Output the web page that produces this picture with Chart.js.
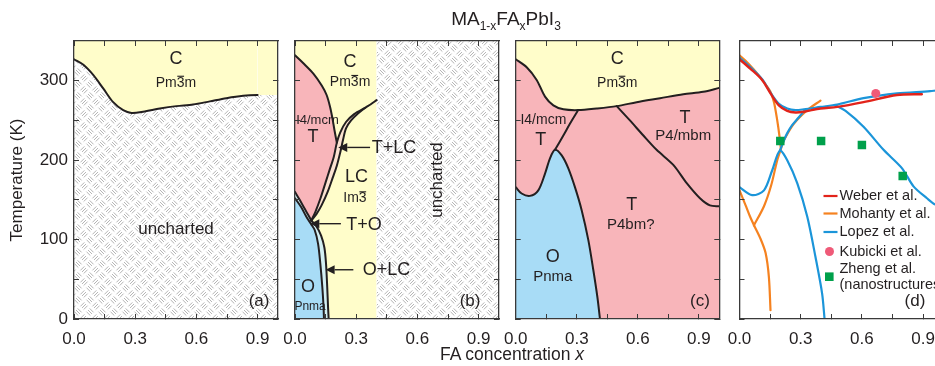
<!DOCTYPE html>
<html>
<head>
<meta charset="utf-8">
<script src="https://cdn.jsdelivr.net/npm/chart.js@4/dist/chart.umd.min.js"></script>
<style>
  html, body { margin: 0; padding: 0; background: #fff; width: 935px; height: 366px; overflow: hidden; position: relative; }
  canvas { position: absolute; top: 0; }
  .txt { position: absolute; font-family: 'Liberation Sans', Arial, Helvetica, sans-serif; color: #231f20;
         white-space: nowrap; transform: translate(-50%, -50%); line-height: 1; }
  .txt sub { font-size: 12px; vertical-align: -5px; line-height: 0; }
</style>
</head>
<body>
<canvas id="pa" width="290" height="366" style="left:0px"></canvas>
<canvas id="pb" width="230" height="366" style="left:280px"></canvas>
<canvas id="pc" width="230" height="366" style="left:500px"></canvas>
<canvas id="pd" width="240" height="366" style="left:720px"></canvas>
<div class="txt" style="left:506px; top:18px; font-size:19px">MA<sub>1-x</sub>FA<sub>x</sub>PbI<sub>3</sub></div>
<div class="txt" style="left:512px; top:355px; font-size:17.5px">FA concentration <i>x</i></div>
<script>
// ---------- axes ----------
const X_TICKS = [0, 0.15, 0.3, 0.45, 0.6, 0.75, 0.9];
const X_TICK_LABELS = ['0.0', '', '0.3', '', '0.6', '', '0.9'];
const Y_TICKS = [0, 50, 100, 150, 200, 250, 300];
const Y_TICK_LABELS = ['0', '', '100', '', '200', '', '300'];

// ---------- (a) cubic phase boundary ----------
const A_X = [0, 0.046, 0.095, 0.144, 0.192, 0.241, 0.282, 0.339, 0.421, 0.502, 0.584, 0.666, 0.747, 0.829, 0.9, 1.0];
const A_T = [327, 320, 307, 290, 273, 263, 259.5, 261, 265, 268, 270, 274, 278, 281, 282, 282];

// ---------- (b) MA-rich side ----------
const B_TC_X = [0, 0.041, 0.09, 0.131, 0.155, 0.172, 0.184, 0.194, 0.205];
const B_TC_T = [332, 322, 309, 294, 282, 267, 252, 237, 222];
const B_L_X = [0.345, 0.29, 0.25, 0.222, 0.205, 0.19, 0.17, 0.15, 0.125, 0.1, 0.08];
const B_L_T = [266, 258, 248, 235, 222, 204, 188, 172, 152, 135, 124];
const B_R_X = [0.4, 0.37, 0.345, 0.31, 0.275, 0.25, 0.235, 0.222, 0.205, 0.185, 0.16, 0.13, 0.105, 0.08];
const B_R_T = [275.5, 270, 266, 259, 250, 240, 225, 210, 193, 178, 160, 143, 132, 124];
const B_TO_X = [0, 0.023, 0.047, 0.065, 0.08];
const B_TO_T = [160, 150, 139, 131, 124];
const B_LC_X = [0.08, 0.104, 0.128, 0.144, 0.152, 0.158, 0.162, 0.165];
const B_LC_T = [124, 117, 105, 90, 70, 40, 15, 0];
const B_O_X = [0, 0.03, 0.055, 0.08, 0.0965, 0.113, 0.124, 0.134, 0.14, 0.142];
const B_O_T = [152, 141, 129, 119, 112, 95, 70, 40, 15, 0];

// ---------- (c) full composition range ----------
const C_C_X = [0, 0.054, 0.103, 0.144, 0.185, 0.234, 0.307, 0.398, 0.496, 0.594, 0.709, 0.823, 0.921, 1.0];
const C_C_T = [327, 317, 301, 280, 269, 264, 263, 265, 268, 273, 278, 283, 286, 291];
const C_TT_X = [0.307, 0.267, 0.234, 0.193];
const C_TT_T = [263, 246, 231, 213];
const C_O_X = [0, 0.029, 0.07, 0.111, 0.144, 0.168, 0.193, 0.226, 0.258, 0.291, 0.324, 0.357, 0.381, 0.401, 0.414];
const C_O_T = [166, 158, 155, 162, 183, 202, 213, 206, 190, 166, 137, 99, 62, 28, 0];
const C_MBM_X = [0.496, 0.561, 0.627, 0.692, 0.774, 0.84, 0.905, 0.954, 1.0];
const C_MBM_T = [268, 250, 231, 213, 194, 171, 152, 143, 142];

// ---------- (d) literature ----------
const WEBER_X = [0, 0.054, 0.111, 0.152, 0.193, 0.234, 0.275, 0.316, 0.397, 0.479, 0.608, 0.772, 0.894];
const WEBER_T = [327, 315, 301, 284, 269, 262, 260, 261, 265, 267, 273, 282, 283];
const MOH_C_X = [0, 0.03, 0.07, 0.111, 0.15, 0.169, 0.185, 0.196, 0.203];
const MOH_C_T = [332, 325, 314, 301, 287, 273, 250, 230, 214];
const MOH_R_X = [0.071, 0.12, 0.155, 0.185, 0.203, 0.218, 0.267, 0.332, 0.397];
const MOH_R_T = [118, 142, 168, 200, 214, 225, 246, 263, 275];
const MOH_TO_X = [0, 0.03, 0.05, 0.071];
const MOH_TO_T = [162, 143, 130, 118];
const MOH_LC_X = [0.071, 0.103, 0.128, 0.144, 0.152];
const MOH_LC_T = [118, 101, 83, 53, 11];
const LOP_TOP_X = [0, 0.054, 0.111, 0.152, 0.193, 0.234, 0.275, 0.316, 0.397, 0.479, 0.608, 0.772, 0.935, 1.0];
const LOP_TOP_T = [329, 317, 302, 285, 271, 265, 263, 264, 267, 270, 278, 284, 287, 289];
const LOP_MBM_X = [0.47, 0.52, 0.608, 0.706, 0.796, 0.853, 0.919, 0.96, 1.0];
const LOP_MBM_T = [269, 262, 242, 213, 190, 167, 152, 144, 142];
const LOP_TT_X = [0.198, 0.218, 0.234, 0.258, 0.291, 0.32];
const LOP_TT_T = [212, 225, 234, 244, 254, 263];
const LOP_O_X = [0, 0.062, 0.12, 0.16, 0.198, 0.234, 0.283, 0.332, 0.3725, 0.405, 0.417];
const LOP_O_T = [166, 156, 162, 187, 212, 200, 171, 129, 78, 32, 0];
const KUBICKI_X = [0.668];
const KUBICKI_T = [284];
const ZHENG_X = [0.2, 0.4, 0.6, 0.8];
const ZHENG_T = [224, 224, 219, 180];

// ---------- styling ----------
const FONT = "'Liberation Sans', Arial, Helvetica, sans-serif";
const INK = '#231f20';
const FRAME = '#3a3a3a';
const YELLOW = '#fffdca', PINK = '#f8b5ba', BLUE = '#a8dcf6', PEACH = '#fbe2d1', CYAN = '#d3eff3';
const RED = '#e2231a', ORANGE = '#f58220', LBLUE = '#1b95d9', GREEN = '#00a04b', ROSE = '#ef5a78';

const pts = (xs, ts) => xs.map((x, i) => ({ x, y: ts[i] }));

// grey "checker plate" texture for the uncharted area
function hatch(ctx) {
  const p = 12, s = p / Math.SQRT2, r = Math.SQRT1_2;
  const c = document.createElement('canvas');
  c.width = c.height = p;
  const g = c.getContext('2d');
  g.fillStyle = '#fff';
  g.fillRect(0, 0, p, p);
  g.strokeStyle = '#b4b4b4';
  g.lineWidth = 1;
  const xy = (u, v) => [(u + v) * r, (u - v) * r];
  for (let i = -3; i <= 4; i++) {
    for (let j = -4; j <= 3; j++) {
      const cu = (i + 0.5) * s, cv = (j + 0.5) * s;
      const alongU = (((i + j) % 2) + 2) % 2 === 0;
      for (const o of [-0.27, 0, 0.27]) {
        const off = o * s, half = 0.33 * s;
        const a = alongU ? xy(cu - half, cv + off) : xy(cu + off, cv - half);
        const b = alongU ? xy(cu + half, cv + off) : xy(cu + off, cv + half);
        g.beginPath(); g.moveTo(a[0], a[1]); g.lineTo(b[0], b[1]); g.stroke();
      }
    }
  }
  return ctx.createPattern(c, 'repeat');
}

function region(data, color, fill, tension = 0) {
  return { data, fill, backgroundColor: color, borderColor: 'transparent', borderWidth: 0, tension, pointRadius: 0 };
}
function boundary(data, color = INK, width = 2, tension = 0.3) {
  return { data, fill: false, borderColor: color, borderWidth: width, tension, pointRadius: 0,
           borderCapStyle: 'round', borderJoinStyle: 'round' };
}
// first item is drawn at the bottom
function layers(list) { return list.map((d, i) => Object.assign(d, { order: list.length - i })); }

function scaleSet(leftW, showY) {
  const grid = () => ({ drawOnChartArea: false, drawTicks: true, tickLength: -5, color: FRAME, lineWidth: 1, z: 1 });
  const border = () => ({ display: true, color: FRAME, width: 1.3, z: 1 });
  const xTicks = s => { s.ticks = X_TICKS.map(v => ({ value: v })); };
  const yTicks = s => { s.ticks = Y_TICKS.map(v => ({ value: v })); };
  const noPad = s => { s.paddingLeft = s.paddingRight = s.paddingTop = s.paddingBottom = 0; };
  return {
    x: {
      type: 'linear', position: 'bottom', min: 0, max: 1, bounds: 'data',
      grid: grid(), border: border(), afterBuildTicks: xTicks,
      ticks: { autoSkip: false, maxRotation: 0, minRotation: 0, padding: 15, color: INK,
               font: { family: FONT, size: 17 }, callback: (v, i) => X_TICK_LABELS[i] },
      afterFit: s => { s.height = 47; noPad(s); }
    },
    xTop: {
      type: 'linear', position: 'top', min: 0, max: 1, bounds: 'data',
      grid: grid(), border: border(), afterBuildTicks: xTicks,
      ticks: { display: false },
      afterFit: s => { s.height = 0; noPad(s); }
    },
    y: {
      type: 'linear', position: 'left', min: 0, max: 350, bounds: 'data',
      grid: grid(), border: border(), afterBuildTicks: yTicks,
      ticks: { display: showY, autoSkip: false, padding: 11, color: INK,
               font: { family: FONT, size: 17 }, callback: (v, i) => Y_TICK_LABELS[i] },
      title: { display: showY, text: 'Temperature (K)', color: INK,
               font: { family: FONT, size: 17 }, padding: { top: 7, bottom: 0 } },
      afterFit: s => { s.width = leftW; noPad(s); }
    },
    yRight: {
      type: 'linear', position: 'right', min: 0, max: 350, bounds: 'data',
      grid: grid(), border: border(), afterBuildTicks: yTicks,
      ticks: { display: false },
      afterFit: s => { s.width = 0; noPad(s); }
    }
  };
}

// phase names, arrows and the literature key, placed through the chart scales
function notes(items, arrows, legend) {
  return {
    id: 'notes',
    afterDatasetsDraw(chart) {
      const { ctx, chartArea } = chart;
      const sx = chart.scales.x, sy = chart.scales.y;
      ctx.save();
      ctx.fillStyle = INK;
      ctx.strokeStyle = INK;
      ctx.textAlign = 'center';
      ctx.textBaseline = 'middle';
      for (const L of items) {
        ctx.save();
        ctx.translate(sx.getPixelForValue(L.x), sy.getPixelForValue(L.y));
        if (L.rot) ctx.rotate(L.rot);
        ctx.font = L.size + 'px ' + FONT;
        ctx.fillText(L.text, 0, 0);
        if (L.bar != null) {
          const w = ctx.measureText(L.text).width;
          const pre = ctx.measureText(L.text.slice(0, L.bar)).width;
          const cw = ctx.measureText(L.text[L.bar]).width;
          ctx.fillRect(-w / 2 + pre + 0.5, -L.size * 0.5, cw - 1, 1.1);
        }
        ctx.restore();
      }
      for (const A of arrows) {
        const x0 = sx.getPixelForValue(A.from[0]), y0 = sy.getPixelForValue(A.from[1]);
        const x1 = sx.getPixelForValue(A.to[0]), y1 = sy.getPixelForValue(A.to[1]);
        const ang = Math.atan2(y1 - y0, x1 - x0), hl = 9, hw = 4.5;
        const bx = x1 - hl * Math.cos(ang), by = y1 - hl * Math.sin(ang);
        ctx.lineWidth = 1.4;
        ctx.beginPath(); ctx.moveTo(x0, y0); ctx.lineTo(bx, by); ctx.stroke();
        ctx.beginPath(); ctx.moveTo(x1, y1);
        ctx.lineTo(bx + hw * Math.sin(ang), by - hw * Math.cos(ang));
        ctx.lineTo(bx - hw * Math.sin(ang), by + hw * Math.cos(ang));
        ctx.closePath(); ctx.fill();
      }
      if (legend) {
        const lx = chartArea.left, ty = chartArea.top;
        ctx.textAlign = 'left';
        ctx.font = '14.5px ' + FONT;
        for (const e of legend) {
          const my = ty + e.dy;
          if (e.kind === 'line') {
            ctx.strokeStyle = e.color; ctx.lineWidth = 2.2;
            ctx.beginPath(); ctx.moveTo(lx + 84, my); ctx.lineTo(lx + 98, my); ctx.stroke();
          } else if (e.kind === 'circle') {
            ctx.fillStyle = e.color;
            ctx.beginPath(); ctx.arc(lx + 90, my, 4.5, 0, Math.PI * 2); ctx.fill();
          } else {
            ctx.fillStyle = e.color;
            ctx.fillRect(lx + 85.5, my - 4.3, 8.6, 8.6);
          }
          ctx.fillStyle = INK;
          e.lines.forEach((t, k) => ctx.fillText(t, lx + 100, ty + e.ty[k]));
        }
      }
      ctx.restore();
    }
  };
}

function panel(id, leftW, rightPad, showY, build, items, arrows, legend) {
  const cv = document.getElementById(id);
  const ctx = cv.getContext('2d');
  return new Chart(cv, {
    type: 'line',
    data: { datasets: build(ctx) },
    options: {
      responsive: false, animation: false, events: [], devicePixelRatio: 1,
      layout: { autoPadding: false, padding: { top: 41, right: rightPad, left: 0, bottom: 0 } },
      scales: scaleSet(leftW, showY),
      plugins: { legend: { display: false }, tooltip: { enabled: false } }
    },
    plugins: [notes(items, arrows || [], legend)]
  });
}

// (a)
panel('pa', 74, 12, true, ctx => layers([
  region(pts(A_X, A_T), hatch(ctx), 'start', 0.3),
  Object.assign(boundary(pts(A_X, A_T)), {
    fill: 'end', backgroundColor: YELLOW,
    segment: { borderColor: c => (c.p0DataIndex >= A_X.length - 2 ? 'transparent' : undefined) }
  })
]), [
  { text: 'C', x: 0.5, y: 327, size: 18 },
  { text: 'Pm3m', x: 0.5, y: 297.5, size: 14, bar: 2 },
  { text: 'uncharted', x: 0.5, y: 113, size: 17 },
  { text: '(a)', x: 0.907, y: 22, size: 17 }
]);

// (b)
panel('pb', 15, 11, false, ctx => {
  const L = pts(B_L_X, B_L_T), R = pts(B_R_X, B_R_T), TO = pts(B_TO_X, B_TO_T);
  const pinkPoly = [...pts(B_TC_X, B_TC_T), ...L.slice(5), ...TO.slice().reverse().slice(1)];
  const peachPoly = [...L, ...R.slice(2, -1).reverse()];
  const cyanEdge = [...TO, ...pts(B_LC_X, B_LC_T).slice(1)];
  return layers([
    region(pts([0, 0.4], [350, 350]), YELLOW, 'start'),
    region(pts([0.4, 1], [350, 350]), hatch(ctx), 'start'),
    region(pinkPoly, PINK, 'shape'),
    region(peachPoly, PEACH, 'shape'),
    region(cyanEdge, CYAN, 'start'),
    Object.assign(boundary(pts(B_O_X, B_O_T)), { fill: 'start', backgroundColor: BLUE }),
    boundary(pts(B_TC_X, B_TC_T)),
    boundary(pts(B_L_X, B_L_T)),
    boundary(pts(B_R_X, B_R_T)),
    boundary(pts(B_TO_X, B_TO_T)),
    boundary(pts(B_LC_X, B_LC_T))
  ]);
}, [
  { text: 'C', x: 0.27, y: 323, size: 18 },
  { text: 'Pm3m', x: 0.27, y: 298.5, size: 14, bar: 2 },
  { text: 'I4/mcm', x: 0.11, y: 250, size: 13 },
  { text: 'T', x: 0.088, y: 229, size: 18 },
  { text: 'LC', x: 0.302, y: 179, size: 18 },
  { text: 'Im3', x: 0.294, y: 152, size: 14, bar: 2 },
  { text: 'T+LC', x: 0.485, y: 215, size: 18 },
  { text: 'T+O', x: 0.338, y: 118, size: 18 },
  { text: 'O+LC', x: 0.449, y: 61.6, size: 18 },
  { text: 'O', x: 0.064, y: 40.6, size: 18 },
  { text: 'Pnma', x: 0.074, y: 15.5, size: 12 },
  { text: '(b)', x: 0.858, y: 22, size: 17 },
  { text: 'uncharted', x: 0.70, y: 175, size: 17, rot: -Math.PI / 2 }
], [
  { from: [0.368, 216], to: [0.212, 216] },
  { from: [0.225, 120], to: [0.075, 120] },
  { from: [0.286, 62], to: [0.15, 62] }
]);

// (c)
panel('pc', 15.7, 10.7, false, ctx => layers([
  region(pts([0, 1], [350, 350]), PINK, 'start'),
  Object.assign(boundary(pts(C_C_X, C_C_T)), { fill: 'end', backgroundColor: YELLOW }),
  Object.assign(boundary(pts(C_O_X, C_O_T)), { fill: 'start', backgroundColor: BLUE }),
  boundary(pts(C_TT_X, C_TT_T)),
  boundary(pts(C_MBM_X, C_MBM_T))
]), [
  { text: 'C', x: 0.499, y: 327, size: 18 },
  { text: 'Pm3m', x: 0.499, y: 297.5, size: 14, bar: 2 },
  { text: 'I4/mcm', x: 0.136, y: 250, size: 14 },
  { text: 'T', x: 0.123, y: 225, size: 18 },
  { text: 'T', x: 0.832, y: 252.5, size: 18 },
  { text: 'P4/mbm', x: 0.823, y: 230, size: 15 },
  { text: 'T', x: 0.57, y: 143.4, size: 18 },
  { text: 'P4bm?', x: 0.565, y: 118, size: 15 },
  { text: 'O', x: 0.182, y: 78.4, size: 18 },
  { text: 'Pnma', x: 0.182, y: 53.2, size: 15 },
  { text: '(c)', x: 0.905, y: 22, size: 17 }
]);

// (d)
panel('pd', 19.5, 16.5, false, ctx => layers([
  boundary(pts(MOH_C_X, MOH_C_T), ORANGE, 2.2),
  boundary(pts(MOH_R_X, MOH_R_T), ORANGE, 2.2),
  boundary(pts(MOH_TO_X, MOH_TO_T), ORANGE, 2.2),
  boundary(pts(MOH_LC_X, MOH_LC_T), ORANGE, 2.2),
  boundary(pts(LOP_TOP_X, LOP_TOP_T), LBLUE, 2.2),
  boundary(pts(LOP_MBM_X, LOP_MBM_T), LBLUE, 2.2),
  boundary(pts(LOP_TT_X, LOP_TT_T), LBLUE, 2.2),
  boundary(pts(LOP_O_X, LOP_O_T), LBLUE, 2.2),
  boundary(pts(WEBER_X, WEBER_T), RED, 2.4),
  { data: pts(ZHENG_X, ZHENG_T), showLine: false, pointStyle: 'rect', pointRadius: 6,
    backgroundColor: GREEN, pointBackgroundColor: GREEN, pointBorderWidth: 0, borderColor: GREEN },
  { data: pts(KUBICKI_X, KUBICKI_T), showLine: false, pointStyle: 'circle', pointRadius: 4.5,
    backgroundColor: ROSE, pointBackgroundColor: ROSE, pointBorderWidth: 0, borderColor: ROSE }
]), [
  { text: '(d)', x: 0.86, y: 22, size: 17 }
], [], [
  { kind: 'line', color: RED, dy: 155, lines: ['Weber et al.'], ty: [155] },
  { kind: 'line', color: ORANGE, dy: 172.5, lines: ['Mohanty et al.'], ty: [172.5] },
  { kind: 'line', color: LBLUE, dy: 191, lines: ['Lopez et al.'], ty: [191] },
  { kind: 'circle', color: ROSE, dy: 210.5, lines: ['Kubicki et al.'], ty: [210.5] },
  { kind: 'rect', color: GREEN, dy: 235.7, lines: ['Zheng et al.', '(nanostructures)'], ty: [227.5, 244] }
]);
</script>
</body>
</html>
